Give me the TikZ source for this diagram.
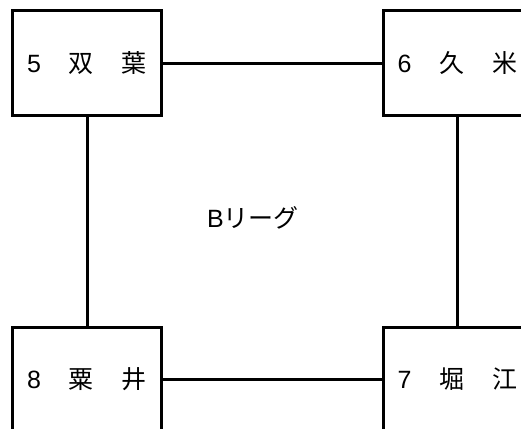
\documentclass[tikz,border=0pt]{standalone}
\usepackage{fontspec}
\setmainfont{Noto Sans CJK JP}
\newfontfamily\latin{Liberation Sans}
\usepackage{tikz}
\tikzstyle{teambox} = [draw=black, fill=white, line width=3pt,
    rectangle, minimum width=149pt, minimum height=105pt, inner sep=0pt,
    font=\fontsize{25}{30}\selectfont]
\tikzstyle{link} = [line width=3pt]
\newcommand{\gap}{\hspace{28pt}}

\begin{document}
\begin{tikzpicture}[x=1pt, y=1pt]
    \useasboundingbox (0,0) rectangle (521,-428);
    \clip (0,0) rectangle (521,-428);
    \node [teambox] (futaba) at (87,-63) {{\latin 5}\gap 双\gap 葉};
    \node [teambox] (kume) at (457.5,-63) {{\latin 6}\gap 久\gap 米};
    \node [teambox] (kurii) at (87,-379.5) {{\latin 8}\gap 粟\gap 井};
    \node [teambox] (horie) at (457.5,-379.5) {{\latin 7}\gap 堀\gap 江};
    \node [font=\fontsize{25}{30}\selectfont] (league) at (253,-218) {{\latin B}リーグ};
    \draw [link] (futaba) -- (kume);
    \draw [link] (futaba) -- (kurii);
    \draw [link] (kume) -- (horie);
    \draw [link] (kurii) -- (horie);
\end{tikzpicture}
\end{document}
